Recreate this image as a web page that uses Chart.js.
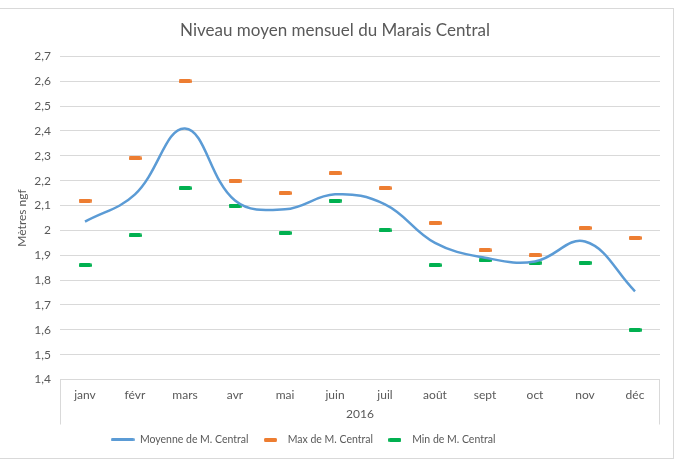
<!DOCTYPE html>
<html lang="fr">
<head>
<meta charset="utf-8">
<title>Niveau moyen mensuel du Marais Central</title>
<script src="https://cdn.jsdelivr.net/npm/chart.js@4/dist/chart.umd.min.js"></script>
<style>
    html, body { margin: 0; padding: 0; background: #ffffff; }
    #wrap { position: relative; width: 675px; height: 462px; overflow: hidden; }
    #chartCanvas { position: absolute; left: 0; top: 0; }
    #frame {
        position: absolute; left: -1px; top: 8px; width: 675px; height: 451px;
        box-sizing: border-box; border: 1px solid #d9d9d9; pointer-events: none;
    }
</style>
</head>
<body>
<div id="wrap">
    <canvas id="chartCanvas" width="675" height="462"></canvas>
    <div id="frame"></div>
</div>
<script>
// données du graphique
const months = ['janv', 'févr', 'mars', 'avr', 'mai', 'juin', 'juil', 'août', 'sept', 'oct', 'nov', 'déc'];
const yearLabel = '2016';
const moyenne = [2.035, 2.145, 2.41, 2.12, 2.085, 2.145, 2.105, 1.95, 1.89, 1.875, 1.955, 1.755];
const maxi = [2.12, 2.29, 2.60, 2.20, 2.15, 2.23, 2.17, 2.03, 1.92, 1.90, 2.01, 1.97];
const mini = [1.86, 1.98, 2.17, 2.10, 1.99, 2.12, 2.00, 1.86, 1.88, 1.87, 1.87, 1.60];
const yTickLabels = ['1,4', '1,5', '1,6', '1,7', '1,8', '1,9', '2', '2,1', '2,2', '2,3', '2,4', '2,5', '2,6', '2,7'];

const FONT = "Lato, 'Open Sans', sans-serif";
const TEXT = '#595959';
const GRID = '#d9d9d9';
const BLUE = '#5b9bd5';
const ORANGE = '#ed7d31';
const GREEN = '#00b050';

// petits tirets (marqueurs) dessinés dans un canvas
function makeDash(color, w, h) {
    const c = document.createElement('canvas');
    c.width = w;
    c.height = h;
    const ctx = c.getContext('2d');
    ctx.fillStyle = color;
    ctx.beginPath();
    if (ctx.roundRect) {
        ctx.roundRect(0, 0, w, h, 1.5);
    } else {
        ctx.rect(0, 0, w, h);
    }
    ctx.fill();
    return c;
}

// cadre de l'axe des catégories (lignes verticales gauche / droite)
const axisBoxPlugin = {
    id: 'axisBox',
    afterLayout(chart) {
        // la légende d'origine est un peu décalée vers la gauche
        if (chart.legend) {
            chart.legend.left -= 32;
            chart.legend.right -= 32;
        }
    },
    afterDraw(chart) {
        const area = chart.chartArea;
        const x = chart.scales.x;
        const ctx = chart.ctx;
        ctx.save();
        ctx.strokeStyle = GRID;
        ctx.lineWidth = 1;
        ctx.beginPath();
        ctx.moveTo(Math.round(area.left) + 0.5, area.bottom);
        ctx.lineTo(Math.round(area.left) + 0.5, x.bottom);
        ctx.moveTo(Math.round(area.right) - 0.5, area.bottom);
        ctx.lineTo(Math.round(area.right) - 0.5, x.bottom);
        ctx.stroke();
        ctx.restore();
    }
};

function initChart() {
    const canvas = document.getElementById('chartCanvas');

    new Chart(canvas, {
        type: 'line',
        data: {
            labels: months,
            datasets: [{
                label: 'Moyenne de M. Central',
                data: moyenne,
                borderColor: BLUE,
                backgroundColor: BLUE,
                borderWidth: 2.5,
                tension: 0.4,
                pointRadius: 0,
                pointStyle: makeDash(BLUE, 24, 3)
            }, {
                label: 'Max de M. Central',
                data: maxi,
                showLine: false,
                borderColor: ORANGE,
                backgroundColor: ORANGE,
                borderWidth: 4,
                pointRadius: 6,
                pointStyle: makeDash(ORANGE, 13, 4)
            }, {
                label: 'Min de M. Central',
                data: mini,
                showLine: false,
                borderColor: GREEN,
                backgroundColor: GREEN,
                borderWidth: 4,
                pointRadius: 6,
                pointStyle: makeDash(GREEN, 13, 4)
            }]
        },
        options: {
            responsive: false,
            animation: false,
            events: [],
            layout: {
                padding: { left: 10, right: 15, top: 0, bottom: 7 }
            },
            scales: {
                x: {
                    offset: true,
                    grid: { display: false },
                    border: { display: false },
                    ticks: {
                        color: TEXT,
                        font: { family: FONT, size: 12 },
                        padding: 0,
                        maxRotation: 0
                    },
                    title: {
                        display: true,
                        text: yearLabel,
                        color: TEXT,
                        font: { family: FONT, size: 12 },
                        padding: { top: 0, bottom: 3 }
                    },
                    afterFit(scale) {
                        scale.height = 45;
                    }
                },
                y: {
                    min: 1.4,
                    max: 2.7,
                    grid: { color: GRID, drawTicks: false },
                    border: { display: false },
                    ticks: {
                        stepSize: 0.1,
                        color: TEXT,
                        font: { family: FONT, size: 12 },
                        padding: 9,
                        callback: (value, index) => yTickLabels[index]
                    },
                    title: {
                        display: true,
                        text: 'Mètres ngf',
                        color: TEXT,
                        font: { family: FONT, size: 12 },
                        padding: { top: 5, bottom: 0 }
                    },
                    afterFit(scale) {
                        scale.width = 50;
                    }
                }
            },
            plugins: {
                title: {
                    display: true,
                    text: 'Niveau moyen mensuel du Marais Central',
                    color: TEXT,
                    font: { family: FONT, size: 17, weight: 'normal' },
                    padding: { top: 20, bottom: 16 }
                },
                legend: {
                    position: 'bottom',
                    labels: {
                        usePointStyle: true,
                        pointStyleWidth: 24,
                        color: TEXT,
                        font: { family: FONT, size: 10.5 },
                        padding: 10
                    }
                },
                tooltip: { enabled: false }
            }
        },
        plugins: [axisBoxPlugin]
    });
}

document.addEventListener('DOMContentLoaded', initChart);
</script>
</body>
</html>
